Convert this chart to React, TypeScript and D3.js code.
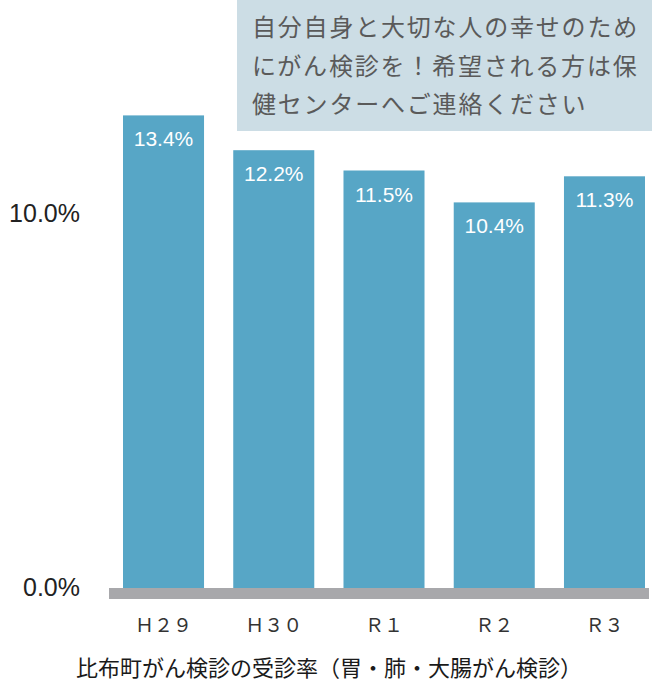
import React, { useEffect, useRef } from 'react';
import * as d3 from 'd3';

// data
const categories = ['Ｈ２９', 'Ｈ３０', 'Ｒ１', 'Ｒ２', 'Ｒ３'];
const rates = [13.4, 12.2, 11.5, 10.4, 11.3];
const yTicks = [0, 10];
const noteLines = [
  '自分自身と大切な人の幸せのため',
  'にがん検診を！希望される方は保',
  '健センターへご連絡ください',
];
const caption = '比布町がん検診の受診率（胃・肺・大腸がん検診）';

const W = 652;
const H = 697;
const FONT = '"Noto Sans CJK JP", "Noto Sans", sans-serif';
const NUM_FONT = '"Liberation Sans", Arial, sans-serif';
const BAR = '#57a6c6';

const App = () => {
  const ref = useRef<SVGSVGElement | null>(null);

  useEffect(() => {
    if (!ref.current) return;
    const svg = d3.select(ref.current);
    svg.selectAll('*').remove();

    const x = d3.scaleBand<string>()
      .domain(categories)
      .range([108.4, 659.6])
      .paddingInner(0.265)
      .paddingOuter(0.1325);

    // axis in the original is not linear from zero, so it is piecewise
    const y = d3.scaleLinear().domain([0, 10, 14]).range([588, 214, 98]);

    // annotation box
    svg.append('rect')
      .attr('x', 237).attr('y', 0)
      .attr('width', W - 237).attr('height', 131)
      .attr('fill', '#ccdde5');

    svg.append('g').selectAll('text')
      .data(noteLines)
      .enter()
      .append('text')
      .attr('x', 252)
      .attr('y', (d, i) => 36 + i * 38.5)
      .style('font-family', FONT)
      .style('font-size', '24px')
      .style('letter-spacing', '1.8px')
      .style('fill', '#5a5a5a')
      .text((d) => d);

    // bars
    const data = categories.map((c, i) => ({ cat: c, v: rates[i] }));
    svg.append('g').selectAll('rect')
      .data(data)
      .enter()
      .append('rect')
      .attr('x', (d) => x(d.cat)!)
      .attr('y', (d) => y(d.v))
      .attr('width', x.bandwidth())
      .attr('height', (d) => y(0) - y(d.v))
      .attr('fill', BAR);

    svg.append('g').selectAll('text')
      .data(data)
      .enter()
      .append('text')
      .attr('x', (d) => x(d.cat)! + x.bandwidth() / 2)
      .attr('y', (d) => y(d.v) + 31)
      .attr('text-anchor', 'middle')
      .style('font-family', NUM_FONT)
      .style('font-size', '21px')
      .style('fill', '#fff')
      .text((d) => d.v.toFixed(1) + '%');

    // gray baseline
    svg.append('rect')
      .attr('x', 109).attr('y', y(0))
      .attr('width', 649 - 109).attr('height', 11)
      .attr('fill', '#a8a8ab');

    // y tick labels
    svg.append('g').selectAll('text')
      .data(yTicks)
      .enter()
      .append('text')
      .attr('x', 80)
      .attr('y', (d) => y(d) + 8)
      .attr('text-anchor', 'end')
      .style('font-family', NUM_FONT)
      .style('font-size', '25px')
      .style('fill', '#222')
      .text((d) => d.toFixed(1) + '%');

    // category labels
    svg.append('g').selectAll('text')
      .data(categories)
      .enter()
      .append('text')
      .attr('x', (d) => x(d)! + x.bandwidth() / 2)
      .attr('y', 632)
      .attr('text-anchor', 'middle')
      .style('font-family', FONT)
      .style('font-size', '19px')
      .style('fill', '#333')
      .text((d) => d);

    svg.append('text')
      .attr('x', 329)
      .attr('y', 676)
      .attr('text-anchor', 'middle')
      .style('font-family', FONT)
      .style('font-size', '22px')
      .style('fill', '#1a1a1a')
      .text(caption);
  }, []);

  return (
    <svg
      ref={ref}
      width={W}
      height={H}
      style={{ position: 'absolute', left: 0, top: 0, background: '#fff' }}
    />
  );
};

export default App;
